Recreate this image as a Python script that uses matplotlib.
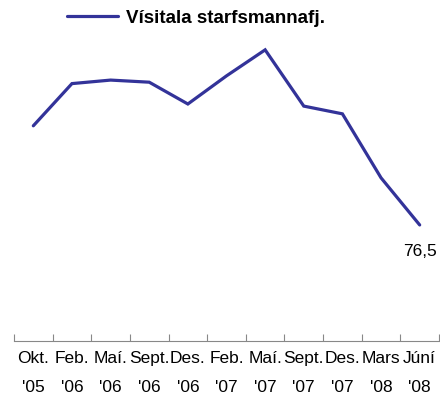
import matplotlib
matplotlib.use("Agg")
import matplotlib.pyplot as plt
import numpy as np
from matplotlib import font_manager

# Gögn
manudir = ["Okt.\n'05", "Feb.\n'06", "Maí.\n'06", "Sept.\n'06", "Des.\n'06",
           "Feb.\n'07", "Maí.\n'07", "Sept.\n'07", "Des.\n'07", "Mars\n'08", "Júní\n'08"]
visitala = [90.6, 96.6, 97.1, 96.8, 93.7, 97.7, 101.4, 93.4, 92.3, 83.2, 76.5]
heiti = "Vísitala starfsmannafj."
sidasta = "76,5"

nofn = {f.name for f in font_manager.fontManager.ttflist}
leturgerd = ["Liberation Sans Narrow"] if "Liberation Sans Narrow" in nofn else ["Liberation Sans"]
plt.rcParams["font.family"] = leturgerd + ["DejaVu Sans"]

litur = "#333399"

fig = plt.figure(figsize=(4.4, 4.03), dpi=100)
ax = fig.add_axes([14 / 440, 1 - 341 / 403, 425 / 440, (341 - 40) / 403])

x = np.arange(len(visitala))
lina, = ax.plot(x, visitala, color=litur, lw=2.3, solid_capstyle="round",
                solid_joinstyle="miter", label=heiti)

ax.set_xlim(-0.5, len(visitala) - 0.5)
ax.set_ylim(60, 102.8)

ax.annotate(sidasta, (x[-1], visitala[-1]), xytext=(0, -14), textcoords="offset points",
            ha="center", va="top", fontsize=12.5)

for s in ["left", "right", "top"]:
    ax.spines[s].set_visible(False)
ax.spines["bottom"].set_color("#888888")
ax.spines["bottom"].set_linewidth(0.8)

ax.set_yticks([])
ax.set_xticks(x)
ax.set_xticklabels(manudir, fontsize=12.5, linespacing=2.2)
ax.tick_params(axis="x", which="major", length=0, pad=7)
ax.set_xticks(np.arange(-0.5, len(visitala)), minor=True)
ax.tick_params(axis="x", which="minor", direction="in", length=5, color="#888888", width=0.8)

fig.legend(handles=[lina], labels=[heiti], loc="center", bbox_to_anchor=(196 / 440, 1 - 18 / 403),
           frameon=False, handlelength=2.7, handletextpad=0.4,
           prop={"weight": "bold", "size": 13.5})

fig.savefig("out.png", dpi=100)
